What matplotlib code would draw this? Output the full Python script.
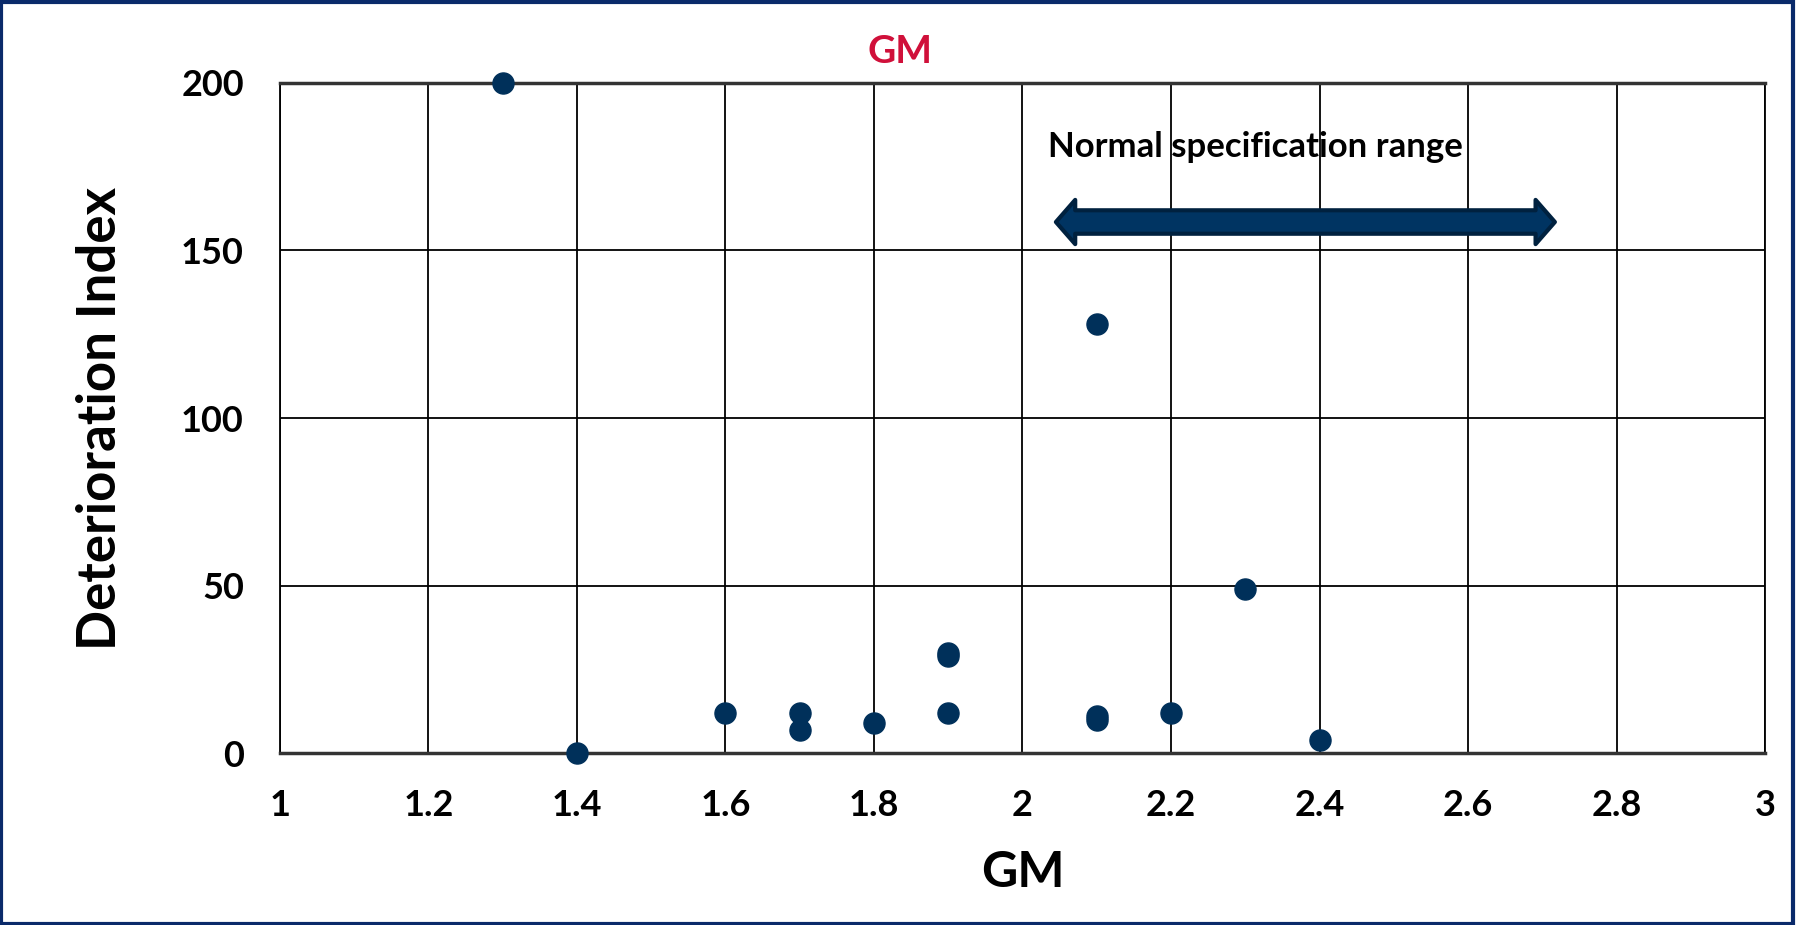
import matplotlib
matplotlib.use("Agg")
import matplotlib.pyplot as plt
from matplotlib.patches import Polygon, Rectangle

plt.rcParams['font.family'] = ['Lato', 'DejaVu Sans']

gm = [1.3, 1.4, 1.6, 1.7, 1.7, 1.8, 1.9, 1.9, 1.9, 2.1, 2.1, 2.1, 2.2, 2.3, 2.4]
deterioration = [200, 0, 12, 12, 7, 9, 30, 29, 12, 128, 11, 10, 12, 49, 4]

x_ticks = [1, 1.2, 1.4, 1.6, 1.8, 2, 2.2, 2.4, 2.6, 2.8, 3]
x_tick_labels = ["1", "1.2", "1.4", "1.6", "1.8", "2", "2.2", "2.4", "2.6", "2.8", "3"]
y_ticks = [0, 50, 100, 150, 200]

title = "GM"
x_label = "GM"
y_label = "Deterioration Index"
annotation_text = "Normal specification range"
arrow_x = (2.045, 2.717)
arrow_y = 158.5
text_pos = (2.035, 181)

navy = "#00305A"

fig = plt.figure(figsize=(17.97, 9.25), dpi=100)
ax = fig.add_axes([0.1558, 0.1859, 0.9822 - 0.1558, 0.9103 - 0.1859])

ax.scatter(gm, deterioration, s=230, color=navy, zorder=5, clip_on=False)

ax.set_xlim(1, 3)
ax.set_ylim(0, 200)
ax.set_xticks(x_ticks)
ax.set_xticklabels(x_tick_labels)
ax.set_yticks(y_ticks)
ax.grid(True, color="black", linewidth=1.3)
ax.set_axisbelow(True)
ax.tick_params(axis="both", length=0, labelsize=26, pad=26)
for lbl in ax.get_xticklabels() + ax.get_yticklabels():
    lbl.set_fontweight("bold")

for side in ["top", "bottom"]:
    ax.spines[side].set_linewidth(2.5)
    ax.spines[side].set_color("#333333")
for side in ["left", "right"]:
    ax.spines[side].set_linewidth(1.3)
    ax.spines[side].set_color("black")

ax.set_xlabel(x_label, fontsize=36, fontweight="bold", labelpad=20)
ax.set_ylabel(y_label, fontsize=38, fontweight="bold", labelpad=40)

fig.text(0.5008, 0.944, title, color="#D0103A", fontsize=28, fontweight="bold",
         ha="center", va="center")

ax.text(text_pos[0], text_pos[1], annotation_text, fontsize=25, fontweight="bold",
        ha="left", va="center", zorder=6)

# double-headed arrow (annotation shape)
x0, x1 = arrow_x
hl = 0.026      # head length in data x
sh = 3.5        # shaft half-height in data y
hh = 6.6        # head half-height in data y
pts = [
    (x0, arrow_y), (x0 + hl, arrow_y + hh), (x0 + hl, arrow_y + sh),
    (x1 - hl, arrow_y + sh), (x1 - hl, arrow_y + hh), (x1, arrow_y),
    (x1 - hl, arrow_y - hh), (x1 - hl, arrow_y - sh), (x0 + hl, arrow_y - sh),
    (x0 + hl, arrow_y - hh),
]
ax.add_patch(Polygon(pts, closed=True, facecolor="#003462", edgecolor="#00213F",
                     linewidth=3, joinstyle="round", zorder=6, clip_on=False))

# figure border
fig.patches.append(Rectangle((0.0005, 0.001), 0.9975, 0.997, transform=fig.transFigure,
                             fill=False, edgecolor="#0A2A6A", linewidth=3, zorder=10))

fig.savefig("out.png", dpi=100, facecolor="white")
